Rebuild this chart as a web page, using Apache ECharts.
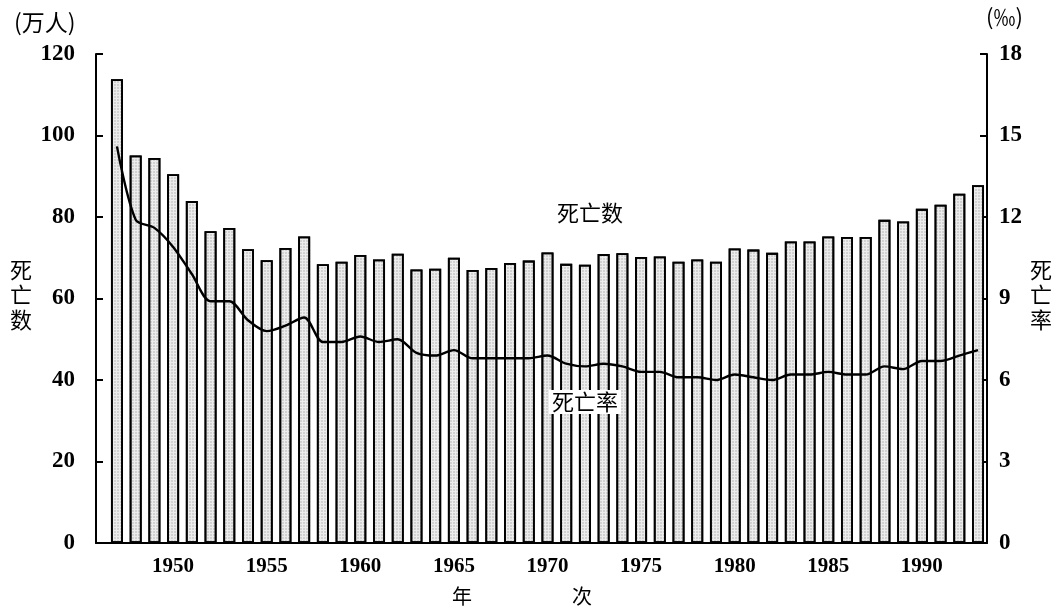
<!DOCTYPE html>
<html>

<head>
    <meta charset="utf-8" />
    <title>死亡数与死亡率</title>
    <script src="https://cdn.jsdelivr.net/npm/echarts@6/dist/echarts.min.js"></script>
</head>
<style>
    body {
        margin: 0;
        background: #fff;
    }
</style>

<body>
    <div id="main" style="width: 1062px;height:610px;"></div>
    <script type="text/javascript">
        // 年次
        var years = [1947, 1948, 1949, 1950, 1951, 1952, 1953, 1954, 1955, 1956,
            1957, 1958, 1959, 1960, 1961, 1962, 1963, 1964, 1965, 1966,
            1967, 1968, 1969, 1970, 1971, 1972, 1973, 1974, 1975, 1976,
            1977, 1978, 1979, 1980, 1981, 1982, 1983, 1984, 1985, 1986,
            1987, 1988, 1989, 1990, 1991, 1992, 1993];
        // 死亡数（万人）
        var deaths = [113.8, 95.1, 94.5, 90.5, 83.9, 76.5, 77.3, 72.1, 69.4, 72.4,
            75.2, 68.4, 69.0, 70.7, 69.6, 71.0, 67.1, 67.3, 70.0, 67.0,
            67.5, 68.7, 69.3, 71.3, 68.5, 68.3, 70.9, 71.1, 70.2, 70.3,
            69.0, 69.6, 69.0, 72.3, 72.0, 71.2, 74.0, 74.0, 75.2, 75.1,
            75.1, 79.3, 78.9, 82.0, 83.0, 85.7, 87.8];
        // 死亡率（‰）
        var rates = [14.6, 11.9, 11.6, 10.9, 9.9, 8.9, 8.9, 8.2, 7.8, 8.0,
            8.3, 7.4, 7.4, 7.6, 7.4, 7.5, 7.0, 6.9, 7.1, 6.8,
            6.8, 6.8, 6.8, 6.9, 6.6, 6.5, 6.6, 6.5, 6.3, 6.3,
            6.1, 6.1, 6.0, 6.2, 6.1, 6.0, 6.2, 6.2, 6.3, 6.2,
            6.2, 6.5, 6.4, 6.7, 6.7, 6.9, 7.1];

        var myChart = echarts.init(document.getElementById('main'));

        var serif = '"Liberation Serif", "DejaVu Serif", serif';
        var cjk = '"Noto Sans CJK SC", sans-serif';

        var barData = [];
        var lineData = [];
        for (var i = 0; i < years.length; i++) {
            barData.push([years[i], deaths[i]]);
            lineData.push([years[i], rates[i]]);
        }

        option = {
            animation: false,
            grid: {
                left: 96,
                right: 75,
                top: 54,
                bottom: 67
            },
            xAxis: {
                type: 'value',
                min: 1945.88,
                max: 1993.48,
                splitNumber: 10,
                splitLine: { show: false },
                axisLine: { show: true, lineStyle: { color: '#000', width: 2 } },
                axisTick: { show: false },
                axisLabel: {
                    color: '#000',
                    fontFamily: serif,
                    fontWeight: 'bold',
                    fontSize: 21,
                    margin: 13,
                    showMinLabel: false,
                    showMaxLabel: false,
                    formatter: function (v) {
                        return v % 5 === 0 ? String(v) : '';
                    }
                }
            },
            yAxis: [{
                type: 'value',
                min: 0,
                max: 120,
                interval: 20,
                splitLine: { show: false },
                axisLine: { show: true, lineStyle: { color: '#000', width: 2 } },
                axisTick: { show: true, inside: true, length: 7, lineStyle: { color: '#000', width: 2 } },
                axisLabel: { color: '#000', fontFamily: serif, fontWeight: 'bold', fontSize: 23, margin: 21 }
            }, {
                type: 'value',
                min: 0,
                max: 18,
                interval: 3,
                splitLine: { show: false },
                axisLine: { show: true, lineStyle: { color: '#000', width: 2 } },
                axisTick: { show: true, inside: true, length: 7, lineStyle: { color: '#000', width: 2 } },
                axisLabel: { color: '#000', fontFamily: serif, fontWeight: 'bold', fontSize: 23, margin: 12 }
            }],
            series: [{
                name: '死亡数',
                type: 'bar',
                barWidth: 12,
                data: barData,
                itemStyle: {
                    color: '#ececec',
                    borderColor: '#000',
                    borderWidth: 1.8,
                    decal: {
                        symbol: 'rect',
                        symbolSize: 0.5,
                        color: 'rgba(0,0,0,0.45)',
                        dashArrayX: [2, 1],
                        dashArrayY: [2, 1],
                        rotation: 0
                    }
                }
            }, {
                name: '死亡率',
                type: 'line',
                yAxisIndex: 1,
                data: lineData,
                symbol: 'none',
                smooth: 0.3,
                lineStyle: { color: '#000', width: 2.4 }
            }],
            graphic: [
                { type: 'text', left: 14, top: 11, style: { text: '(万人)', font: '23px ' + cjk, fill: '#000' } },
                { type: 'text', left: 986, top: 6, style: { text: '(‰)', font: '22px ' + cjk, fill: '#000' } },
                { type: 'text', left: 10, top: 257, style: { text: '死\n亡\n数', font: '22px ' + cjk, lineHeight: 25, fill: '#000' } },
                { type: 'text', left: 1030, top: 257, style: { text: '死\n亡\n率', font: '22px ' + cjk, lineHeight: 25, fill: '#000' } },
                { type: 'text', left: 557, top: 202, style: { text: '死亡数', font: '22px ' + cjk, fill: '#000' } },
                {
                    type: 'text', left: 549, top: 390, z: 100,
                    style: { text: '死亡率', font: '22px ' + cjk, fill: '#000', backgroundColor: '#fff', padding: [1, 3] }
                },
                { type: 'text', left: 452, top: 586, style: { text: '年', font: '20px ' + cjk, fill: '#000' } },
                { type: 'text', left: 572, top: 586, style: { text: '次', font: '20px ' + cjk, fill: '#000' } }
            ]
        };

        myChart.setOption(option);
    </script>
</body>

</html>
